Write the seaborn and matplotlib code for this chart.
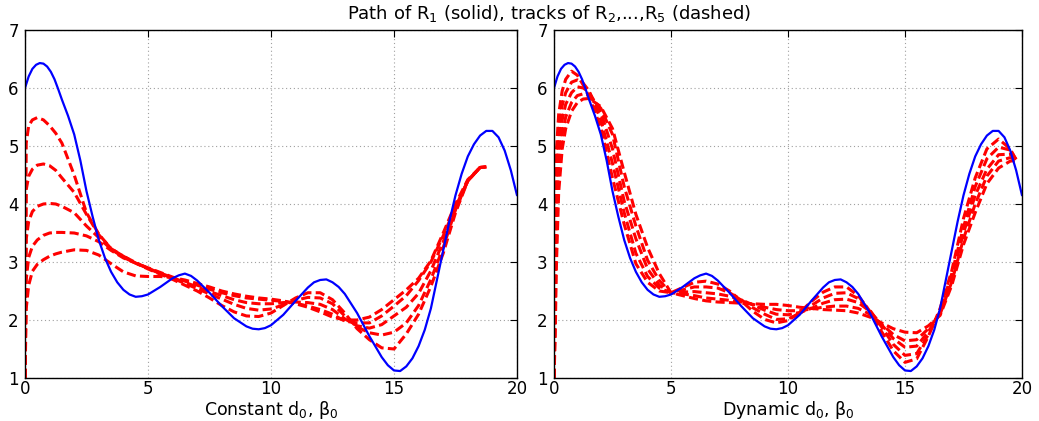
import numpy as np
import pandas as pd
import matplotlib
matplotlib.use("Agg")
import matplotlib.pyplot as plt
import seaborn as sns

# ---------------- data ----------------
X_R1 = [0, 0.15, 0.3, 0.45, 0.6, 0.75, 0.9, 1.05, 1.2, 1.35, 1.5, 1.75,
        2.0, 2.25, 2.5, 2.75, 3.0, 3.25, 3.5, 3.75, 4.0, 4.25, 4.5, 4.75,
        5.0, 5.5, 6.0, 6.25, 6.5, 6.75, 7.0, 7.5, 8.0, 8.5, 9.0, 9.25,
        9.5, 9.75, 10.0, 10.5, 11.0, 11.5, 11.75, 12.0, 12.25, 12.5, 12.75,
        13.0, 13.5, 14.0, 14.5, 14.75, 15.0, 15.25, 15.5, 15.75, 16.0, 16.25,
        16.5, 16.75, 17.0, 17.25, 17.5, 17.75, 18.0, 18.25, 18.5, 18.75,
        19.0, 19.25, 19.5, 19.75, 20.0]
R1 = [6.0, 6.2, 6.33, 6.4, 6.43, 6.42, 6.37, 6.28, 6.15, 5.98, 5.8, 5.52,
      5.2, 4.75, 4.22, 3.78, 3.38, 3.07, 2.83, 2.65, 2.52, 2.44, 2.4, 2.41,
      2.44, 2.57, 2.72, 2.77, 2.8, 2.76, 2.68, 2.47, 2.24, 2.03, 1.89, 1.85,
      1.84, 1.86, 1.91, 2.09, 2.33, 2.56, 2.65, 2.69, 2.7, 2.65, 2.57,
      2.45, 2.12, 1.72, 1.36, 1.22, 1.13, 1.12, 1.2, 1.34, 1.55, 1.83,
      2.2, 2.7, 3.2, 3.7, 4.15, 4.52, 4.82, 5.03, 5.18, 5.26,
      5.26, 5.15, 4.92, 4.58, 4.15]

# left panel: constant d0, beta0 (tracks of R2..R5)
X_CONST = [0, 0.05, 0.15, 0.3, 0.5, 0.75, 1.0, 1.25, 1.5,
           2.0, 2.5, 3.0, 3.5, 4.0, 4.5, 5.0, 5.5, 6.0, 6.5,
           7.0, 7.5, 8.0, 8.5, 9.0, 9.5, 10.0, 10.5, 11.0, 11.5,
           12.0, 12.5, 13.0, 13.5, 14.0, 14.5, 15.0, 15.5, 16.0, 16.5,
           17.0, 17.5, 18.0, 18.5, 18.75]
CONST_1 = [1.0, 5.05, 5.35, 5.45, 5.49, 5.45, 5.35, 5.22, 5.05,
           4.5, 3.85, 3.48, 3.23, 3.1, 2.98, 2.88, 2.79, 2.7, 2.6,
           2.5, 2.38, 2.25, 2.14, 2.07, 2.06, 2.12, 2.25, 2.38, 2.47,
           2.47, 2.35, 2.12, 1.85, 1.66, 1.52, 1.5, 1.76, 2.1, 2.58,
           3.15, 3.85, 4.4, 4.63, 4.64]
CONST_2 = [1.0, 4.25, 4.48, 4.6, 4.67, 4.69, 4.66, 4.58, 4.45,
           4.2, 3.82, 3.47, 3.23, 3.1, 2.99, 2.89, 2.8, 2.72, 2.63,
           2.54, 2.45, 2.36, 2.27, 2.2, 2.17, 2.19, 2.26, 2.34, 2.39,
           2.38, 2.28, 2.07, 1.88, 1.78, 1.74, 1.79, 1.95, 2.25, 2.7,
           3.25, 3.9, 4.4, 4.63, 4.64]
CONST_3 = [1.0, 3.4, 3.7, 3.87, 3.96, 4.0, 4.01, 4.0, 3.96,
           3.85, 3.62, 3.42, 3.22, 3.08, 2.98, 2.89, 2.81, 2.73, 2.65,
           2.57, 2.49, 2.42, 2.35, 2.3, 2.28, 2.28, 2.3, 2.31, 2.3,
           2.27, 2.18, 2.02, 1.9, 1.86, 1.92, 2.07, 2.22, 2.46, 2.85,
           3.35, 3.92, 4.4, 4.63, 4.64]
CONST_4 = [1.0, 2.7, 3.08, 3.27, 3.38, 3.46, 3.5, 3.51, 3.51,
           3.5, 3.45, 3.35, 3.2, 3.07, 2.98, 2.9, 2.82, 2.74, 2.67,
           2.6, 2.53, 2.47, 2.42, 2.38, 2.36, 2.34, 2.32, 2.29, 2.24,
           2.18, 2.1, 1.98, 1.95, 1.95, 2.07, 2.24, 2.42, 2.68, 3.0,
           3.45, 3.95, 4.4, 4.63, 4.64]
CONST_5 = [1.0, 2.2, 2.6, 2.84, 2.96, 3.04, 3.1, 3.14, 3.17,
           3.21, 3.2, 3.12, 2.97, 2.83, 2.76, 2.75, 2.75, 2.73, 2.69,
           2.63, 2.57, 2.5, 2.45, 2.41, 2.38, 2.36, 2.33, 2.28, 2.22,
           2.14, 2.05, 2.0, 2.0, 2.05, 2.18, 2.35, 2.52, 2.72, 3.02,
           3.5, 4.0, 4.42, 4.63, 4.64]

# right panel: dynamic d0, beta0
X_DYN = [0, 0.05, 0.1, 0.2, 0.35, 0.5, 0.75, 1.0, 1.25, 1.5,
         2.0, 2.5, 3.0, 3.5, 4.0, 4.5, 5.0, 5.5, 6.0, 6.5,
         7.0, 7.5, 8.0, 8.5, 9.0, 9.5, 10.0, 10.5, 11.0, 11.5,
         12.0, 12.5, 13.0, 13.5, 14.0, 14.5, 15.0, 15.5, 16.0, 16.5,
         17.0, 17.5, 18.0, 18.5, 19.0, 19.5, 19.75]
DYN_1 = [1.0, 3.5, 4.9, 5.55, 5.95, 6.15, 6.29, 6.22, 6.05, 5.85,
         5.32, 4.45, 3.65, 2.97, 2.65, 2.5, 2.47, 2.56, 2.65, 2.67,
         2.62, 2.5, 2.33, 2.15, 2.01, 1.95, 1.99, 2.13, 2.32, 2.48,
         2.57, 2.57, 2.42, 2.15, 1.8, 1.47, 1.27, 1.33, 1.72, 2.2,
         2.85, 3.75, 4.45, 4.95, 5.12, 4.95, 4.75]
DYN_2 = [1.0, 3.0, 4.4, 5.25, 5.7, 5.92, 6.1, 6.14, 6.08, 5.95,
         5.45, 4.7, 3.85, 3.15, 2.75, 2.55, 2.47, 2.52, 2.57, 2.57,
         2.55, 2.47, 2.35, 2.21, 2.1, 2.01, 2.02, 2.11, 2.25, 2.38,
         2.46, 2.47, 2.37, 2.17, 1.88, 1.58, 1.39, 1.42, 1.75, 2.15,
         2.8, 3.6, 4.3, 4.78, 4.98, 4.93, 4.77]
DYN_3 = [1.0, 2.5, 3.9, 4.95, 5.45, 5.72, 5.92, 6.02, 6.0, 5.93,
         5.58, 4.95, 4.05, 3.4, 2.88, 2.6, 2.47, 2.48, 2.49, 2.47,
         2.45, 2.41, 2.35, 2.26, 2.17, 2.1, 2.09, 2.13, 2.2, 2.29,
         2.35, 2.36, 2.3, 2.15, 1.92, 1.68, 1.53, 1.55, 1.8, 2.12,
         2.72, 3.5, 4.15, 4.6, 4.85, 4.86, 4.77]
DYN_4 = [1.0, 2.1, 3.4, 4.6, 5.2, 5.5, 5.75, 5.87, 5.9, 5.87,
         5.65, 5.2, 4.3, 3.62, 3.03, 2.68, 2.47, 2.45, 2.42, 2.38,
         2.36, 2.34, 2.31, 2.27, 2.22, 2.18, 2.16, 2.16, 2.19, 2.22,
         2.24, 2.24, 2.2, 2.1, 1.93, 1.75, 1.64, 1.66, 1.85, 2.1,
         2.66, 3.4, 4.0, 4.48, 4.74, 4.8, 4.76]
DYN_5 = [1.0, 1.7, 2.9, 4.2, 4.95, 5.3, 5.6, 5.75, 5.81, 5.82,
         5.68, 5.3, 4.55, 3.82, 3.25, 2.8, 2.47, 2.42, 2.37, 2.33,
         2.31, 2.3, 2.29, 2.28, 2.27, 2.27, 2.25, 2.22, 2.2, 2.18,
         2.17, 2.16, 2.12, 2.05, 1.95, 1.85, 1.79, 1.78, 1.9, 2.08,
         2.6, 3.3, 3.85, 4.35, 4.62, 4.74, 4.75]

X_TICKS = [0, 5, 10, 15, 20]
Y_TICKS = [1, 2, 3, 4, 5, 6, 7]
TITLE = "Path of R$_1$ (solid), tracks of R$_2$,...,R$_5$ (dashed)"
XLABELS = ["Constant d$_0$, β$_0$", "Dynamic d$_0$, β$_0$"]

# ---------------- style ----------------
sns.set_theme(style="white")
plt.rcParams["font.family"] = ["DejaVu Sans"]
plt.rcParams["mathtext.fontset"] = "dejavusans"

fig = plt.figure(figsize=(10.39, 4.21), dpi=100)
H = 421.0
W = 1039.0
AX_BOTTOM = 43
AX_TOP = 30
ax_l = fig.add_axes([25 / W, AX_BOTTOM / H, 492 / W, (H - AX_TOP - AX_BOTTOM) / H])
ax_r = fig.add_axes([554 / W, AX_BOTTOM / H, 468 / W, (H - AX_TOP - AX_BOTTOM) / H])

DASH = (0, (3, 1.4))

panels = [
    (ax_l, X_CONST, [CONST_1, CONST_2, CONST_3, CONST_4, CONST_5], XLABELS[0]),
    (ax_r, X_DYN, [DYN_1, DYN_2, DYN_3, DYN_4, DYN_5], XLABELS[1]),
]

for ax, xs, tracks, xlabel in panels:
    for ys in tracks:
        sns.lineplot(x=xs, y=ys, ax=ax, color="#ff0000", linewidth=2.2,
                     linestyle=DASH, sort=False, estimator=None, legend=False)
    sns.lineplot(x=X_R1, y=R1, ax=ax, color="#0000ff", linewidth=1.6,
                 sort=False, estimator=None, legend=False)
    ax.set_xlim(0, 20)
    ax.set_ylim(1, 7)
    ax.set_xticks(X_TICKS)
    ax.set_yticks(Y_TICKS)
    ax.set_xticklabels([str(t) for t in X_TICKS])
    ax.set_yticklabels([str(t) for t in Y_TICKS])
    ax.grid(True, color="#a0a0a0", linestyle=(0, (1, 2.5)), linewidth=0.8)
    ax.tick_params(direction="in", length=5, width=0.8, top=True, right=True,
                   colors="black")
    ax.tick_params(axis="y", labelsize=12, pad=4.5)
    ax.tick_params(axis="x", labelsize=12, pad=1.5)
    for sp in ax.spines.values():
        sp.set_color("black")
        sp.set_linewidth(1.0)
    ax.set_xlabel(xlabel, fontsize=12.5, color="black")
    ax.set_ylabel("")

fig.text(549 / W, 1 - 13 / H, TITLE, ha="center", va="center",
         fontsize=13, color="black")

# place x labels directly beneath the tick labels
fig.canvas.draw()
renderer = fig.canvas.get_renderer()
for ax in (ax_l, ax_r):
    tick_bottom = min(t.get_window_extent(renderer).y0 for t in ax.get_xticklabels())
    abox = ax.get_window_extent(renderer)
    y_axes = (tick_bottom - 0.5 - abox.y0) / abox.height
    ax.xaxis.set_label_coords(0.5, y_axes)
    ax.xaxis.label.set_va("top")

fig.savefig("out.png", dpi=100, facecolor="white")
